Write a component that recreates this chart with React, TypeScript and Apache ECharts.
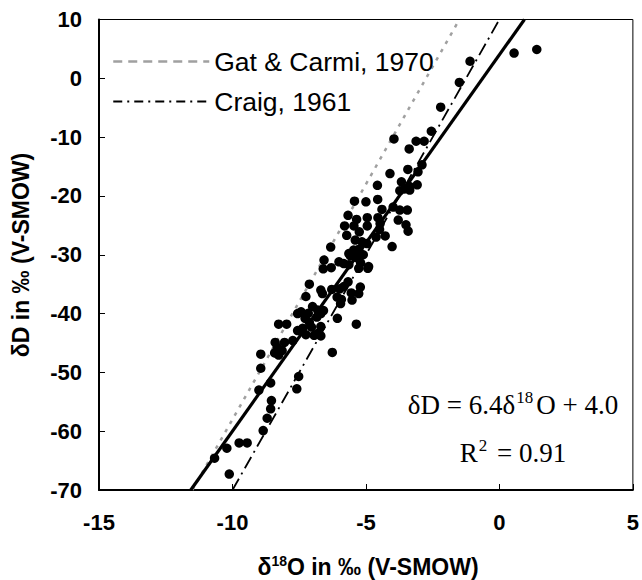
import React, { useEffect, useRef } from "react";
import * as echarts from "echarts";

// δ18O (‰ V-SMOW) of samples
const d18O = [
  1.4, 0.55, -1.1, -1.5, -2.2, -2.55, -3.95, -3.12, -2.82, -3.38,
  -2.9, -3.43, -3.05, -4.1, -3.67, -4.57, -3.08, -3.36, -3.73, -3.36,
  -3.55, -5.43, -5.0, -4.56, -4.4, -3.98, -3.73, -3.45, -5.67, -5.35,
  -4.95, -4.55, -5.8, -5.45, -5.25, -4.95, -4.47, -3.79, -3.5, -3.42,
  -4.49, -4.28, -5.72, -5.4, -5.15, -4.96, -4.62, -4.02, -6.32, -5.64,
  -5.46, -5.27, -5.58, -5.35, -6.57, -6.01, -5.83, -6.3, -6.6, -5.64,
  -5.2, -4.93, -5.27, -7.12, -6.69, -6.63, -6.28, -5.98, -5.83, -5.67,
  -5.21, -5.55, -5.27, -7.25, -7.0, -7.43, -7.16, -6.81, -6.69, -6.59,
  -6.84, -6.08, -5.92, -5.95, -5.52, -6.07, -8.27, -7.97, -7.56, -7.28,
  -7.12, -7.04, -6.69, -5.36, -7.56, -7.37, -7.25, -6.94, -6.81, -6.69,
  -6.26, -7.74, -8.4, -8.05, -8.32, -8.14, -8.42, -8.27, -8.94, -8.94,
  -8.57, -9.01, -7.52, -7.59, -8.54, -8.57, -8.7, -8.85, -9.75, -9.45,
  -10.21, -10.67, -10.12, -5.1, -4.9,
];
// δD (‰ V-SMOW) of samples
const dD = [
  4.9, 4.3, 2.9, -0.7, -4.9, -9.0, -10.3, -10.7, -10.7, -12.0,
  -14.7, -15.5, -15.9, -16.2, -17.6, -18.2, -18.1, -18.4, -19.1, -19.0,
  -18.8, -20.9, -21.0, -20.6, -22.3, -21.9, -22.4, -22.4, -23.3, -24.0,
  -23.7, -23.7, -25.1, -25.1, -26.1, -25.1, -24.7, -24.1, -24.9, -26.0,
  -25.7, -26.8, -26.7, -27.5, -27.8, -28.1, -27.0, -28.6, -28.7, -29.8,
  -29.2, -29.1, -30.2, -30.5, -30.9, -31.2, -31.5, -32.2, -32.4, -31.7,
  -31.4, -32.3, -32.3, -35.0, -36.0, -36.6, -35.9, -35.8, -35.4, -34.6,
  -35.5, -36.5, -36.6, -37.1, -38.8, -39.7, -39.96, -39.4, -40.0, -39.5,
  -40.6, -37.2, -37.6, -38.3, -37.7, -40.8, -41.8, -41.8, -40.0, -40.8,
  -41.5, -42.3, -42.2, -41.8, -42.9, -42.5, -43.6, -43.7, -43.4, -43.8,
  -46.6, -44.6, -44.9, -44.9, -45.75, -46.3, -46.7, -47.05, -46.9, -49.3,
  -51.8, -53.0, -50.7, -52.8, -54.8, -56.2, -57.8, -59.9, -62.0, -62.0,
  -62.9, -64.6, -67.3, -30.0, -32.0,
];

// Reference lines (end points)
const gatCarmiLine = [[-11.5, -70], [-1.5, 10]];
const craigLine = [[-10, -70], [0, 10]];
const regressionLine = [[-11.5625, -70], [0.9375, 10]];

const legendNames = ["Gat & Carmi, 1970", "Craig, 1961"];
const equationText = ["δD = 6.4δ", "18", "O + 4.0"];
const r2Text = ["R", "2", " = 0.91"];

const SANS = "Liberation Sans";
const SERIF = "Liberation Serif";

export default function App() {
  const ref = useRef<HTMLDivElement>(null);
  useEffect(() => {
    const chart = echarts.init(ref.current!, null, { renderer: "svg" });
    const points = d18O.map((x, i) => [x, dD[i]]);
    const eqRich = {
      n: { fontFamily: SERIF, fontSize: 27, fill: "#000", lineHeight: 32 },
      s: { fontFamily: SERIF, fontSize: 17, fill: "#000", verticalAlign: "top", lineHeight: 17, padding: [0, 3, 0, 1] },
    };
    chart.setOption({
      animation: false,
      backgroundColor: "#fff",
      grid: {
        left: 99,
        right: 3,
        top: 19.5,
        bottom: 90,
        show: true,
        borderColor: "#000",
        borderWidth: 1,
        backgroundColor: "transparent",
      },
      xAxis: {
        type: "value",
        min: -15,
        max: 5,
        interval: 5,
        axisLine: { onZero: false, lineStyle: { color: "#000", width: 2 } },
        axisTick: { inside: true, length: 6, lineStyle: { color: "#000", width: 1 } },
        axisLabel: {
          color: "#000",
          fontFamily: SANS,
          fontWeight: "bold",
          fontSize: 22,
          margin: 21,
        },
        splitLine: { show: false },
      },
      yAxis: {
        type: "value",
        min: -70,
        max: 10,
        interval: 10,
        axisLine: { onZero: false, lineStyle: { color: "#000", width: 2 } },
        axisTick: { inside: true, length: 6, lineStyle: { color: "#000", width: 1 } },
        axisLabel: {
          color: "#000",
          fontFamily: SANS,
          fontWeight: "bold",
          fontSize: 22,
          margin: 17,
        },
        splitLine: { show: false },
      },
      legend: {
        show: true,
        orient: "vertical",
        left: 112,
        top: 48,
        padding: 0,
        itemWidth: 96,
        itemHeight: 14,
        itemGap: 13,
        selectedMode: false,
        textStyle: { fontFamily: SANS, fontSize: 26.5, color: "#000", lineHeight: 26 },
        data: [
          {
            name: legendNames[0],
            lineStyle: { color: "#a0a0a0", width: 2.5, type: [9, 6] },
            itemStyle: { opacity: 0 },
          },
          {
            name: legendNames[1],
            lineStyle: { color: "#000", width: 2, type: [9, 5, 2, 5] },
            itemStyle: { opacity: 0 },
          },
        ],
      },
      series: [
        {
          name: "Samples",
          type: "scatter",
          data: points,
          symbol: "circle",
          symbolSize: 9.5,
          itemStyle: { color: "#000", opacity: 1 },
          z: 3,
        },
        {
          name: legendNames[0],
          type: "line",
          data: gatCarmiLine,
          symbol: "none",
          lineStyle: { color: "#a0a0a0", width: 2.5, type: [3.5, 6] },
          z: 2,
        },
        {
          name: legendNames[1],
          type: "line",
          data: craigLine,
          symbol: "none",
          lineStyle: { color: "#000", width: 1.8, type: [13, 5, 2, 5] },
          z: 2,
        },
        {
          name: "Regression",
          type: "line",
          data: regressionLine,
          symbol: "none",
          lineStyle: { color: "#000", width: 3.2 },
          z: 4,
        },
      ],
      graphic: [
        {
          type: "text",
          x: 21,
          y: 255,
          rotation: Math.PI / 2,
          style: {
            text: "δD in ‰ (V-SMOW)",
            fontFamily: SANS,
            fontWeight: "bold",
            fontSize: 23,
            fill: "#000",
            align: "center",
            verticalAlign: "middle",
          },
        },
        {
          type: "text",
          x: 368,
          y: 567,
          style: {
            text: "{d|δ}{s|18}{d|O in ‰ (V-SMOW)}",
            align: "center",
            verticalAlign: "middle",
            rich: {
              d: { fontFamily: SANS, fontWeight: "bold", fontSize: 23, fill: "#000", lineHeight: 26 },
              s: { fontFamily: SANS, fontWeight: "bold", fontSize: 14, fill: "#000", verticalAlign: "top", lineHeight: 14 },
            },
          },
        },
        {
          type: "text",
          x: 513,
          y: 405,
          style: {
            text: `{n|${equationText[0]}}{s|${equationText[1]}}{n|${equationText[2]}}`,
            align: "center",
            verticalAlign: "middle",
            rich: eqRich,
          },
        },
        {
          type: "text",
          x: 513,
          y: 453,
          style: {
            text: `{n|${r2Text[0]}}{s|${r2Text[1]}}{n|${r2Text[2]}}`,
            align: "center",
            verticalAlign: "middle",
            rich: eqRich,
          },
        },
      ],
    });
    return () => chart.dispose();
  }, []);
  return (
    <div
      ref={ref}
      style={{ position: "fixed", left: 0, top: 0, width: 642, height: 580 }}
    />
  );
}
